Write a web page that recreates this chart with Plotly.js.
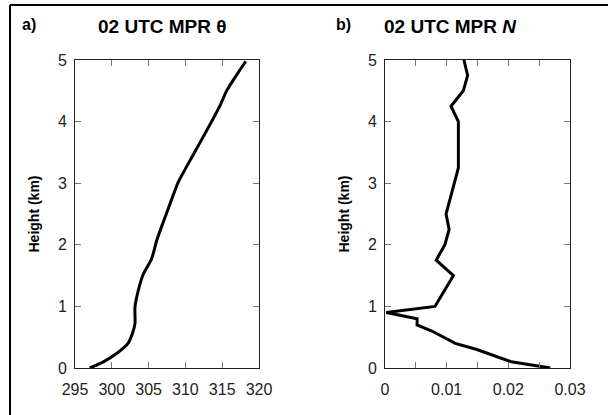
<!DOCTYPE html>
<html>
<head>
<meta charset="utf-8">
<script src="https://cdn.plot.ly/plotly-3.0.1.min.js"></script>
<style>
html,body{margin:0;padding:0;background:#fff;}
#chart{width:608px;height:415px;}
</style>
</head>
<body>
<div id="chart"></div>
<script>
// Panel a: potential temperature profile (K) vs height (km)
const thetaHeight = [0, 0.10, 0.24, 0.40, 0.56, 0.72, 0.99, 1.26, 1.53, 1.77, 2.07, 2.37, 2.66, 3.01, 3.47, 3.90, 4.26, 4.50, 4.71, 4.98];
const thetaValues = [297.0, 298.85, 300.7, 302.2, 302.8, 303.15, 303.15, 303.6, 304.3, 305.4, 306.1, 307.0, 307.9, 309.0, 311.1, 313.1, 314.7, 315.6, 316.7, 318.2];

// Panel b: Brunt-Vaisala frequency N (s^-1) vs height (km)
const nHeight = [5.0, 4.75, 4.5, 4.25, 4.0, 3.25, 2.5, 2.25, 2.0, 1.75, 1.5, 1.0, 0.9, 0.8, 0.7, 0.6, 0.4, 0.3, 0.1, 0.0];
const nValues = [0.0128, 0.0134, 0.0127, 0.0107, 0.0119, 0.0119, 0.0099, 0.0104, 0.0097, 0.0083, 0.0111, 0.0081, 0.0002, 0.0052, 0.0052, 0.0076, 0.0114, 0.0149, 0.0205, 0.0268];

// Tick labels
const thetaTicks = [295, 300, 305, 310, 315, 320];
const thetaTickText = ['295', '300', '305', '310', '315', '320'];
const nTicks = [0, 0.005, 0.01, 0.015, 0.02, 0.025, 0.03];
const nTickText = ['0', '', '0.01', '', '0.02', '', '0.03'];
const heightTicks = [0, 1, 2, 3, 4, 5];
const heightTickText = ['0', '1', '2', '3', '4', '5'];

const W = 608, H = 415;
const px = v => v / W;
const py = v => 1 - v / H;

const font = 'Liberation Sans, Arial, sans-serif';

const traces = [
  {x: thetaValues, y: thetaHeight, xaxis: 'x', yaxis: 'y', mode: 'lines',
   line: {color: '#000', width: 3, shape: 'spline', smoothing: 0.6}, hoverinfo: 'x+y'},
  {x: nValues, y: nHeight, xaxis: 'x2', yaxis: 'y2', mode: 'lines',
   line: {color: '#000', width: 3}, hoverinfo: 'x+y'}
];

const axBase = {
  showline: true, linecolor: '#222', linewidth: 1, mirror: 'ticks',
  ticks: 'inside', ticklen: 6, tickcolor: '#777', tickwidth: 1,
  showgrid: false, zeroline: false, fixedrange: true,
  tickfont: {family: font, size: 16, color: '#222'}
};

const yTitle = {text: '<b>Height (km)</b>', font: {family: font, size: 14, color: '#000'}, standoff: 14};

const layout = {
  width: W, height: H,
  margin: {l: 0, r: 0, t: 0, b: 0},
  paper_bgcolor: '#fff', plot_bgcolor: '#fff',
  showlegend: false,
  font: {family: font, color: '#000'},
  xaxis: Object.assign({}, axBase, {
    domain: [px(75), px(259)], anchor: 'y', range: [295, 320],
    tickmode: 'array', tickvals: thetaTicks, ticktext: thetaTickText, ticklabelstandoff: 7
  }),
  yaxis: Object.assign({}, axBase, {
    domain: [py(368), py(60)], anchor: 'x', range: [0, 5],
    tickmode: 'array', tickvals: heightTicks, ticktext: heightTickText, ticklabelstandoff: 4,
    title: yTitle
  }),
  xaxis2: Object.assign({}, axBase, {
    domain: [px(385), px(570)], anchor: 'y2', range: [0, 0.03],
    tickmode: 'array', tickvals: nTicks, ticktext: nTickText, ticklabelstandoff: 7
  }),
  yaxis2: Object.assign({}, axBase, {
    domain: [py(368), py(60)], anchor: 'x2', range: [0, 5],
    tickmode: 'array', tickvals: heightTicks, ticktext: heightTickText, ticklabelstandoff: 4,
    title: yTitle
  }),
  annotations: [
    {xref: 'paper', yref: 'paper', x: px(20), y: py(25), xanchor: 'left', yanchor: 'middle',
     text: '<b>a)</b>', showarrow: false, font: {family: font, size: 16, color: '#000'}},
    {xref: 'paper', yref: 'paper', x: px(162), y: py(26), xanchor: 'center', yanchor: 'middle',
     text: '<b>02 UTC MPR θ</b>', showarrow: false, font: {family: font, size: 19, color: '#000'}},
    {xref: 'paper', yref: 'paper', x: px(334), y: py(25), xanchor: 'left', yanchor: 'middle',
     text: '<b>b)</b>', showarrow: false, font: {family: font, size: 16, color: '#000'}},
    {xref: 'paper', yref: 'paper', x: px(450), y: py(26), xanchor: 'center', yanchor: 'middle',
     text: '<b>02 UTC MPR <i>N</i></b>', showarrow: false, font: {family: font, size: 19, color: '#000'}}
  ],
  shapes: [
    {type: 'line', xref: 'paper', yref: 'paper', x0: px(10), x1: px(10), y0: py(5), y1: 0,
     line: {color: '#000', width: 2}},
    {type: 'line', xref: 'paper', yref: 'paper', x0: px(10), x1: 1, y0: py(5), y1: py(5),
     line: {color: '#000', width: 2}}
  ]
};

Plotly.newPlot('chart', traces, layout, {displayModeBar: false, staticPlot: true});
</script>
</body>
</html>
